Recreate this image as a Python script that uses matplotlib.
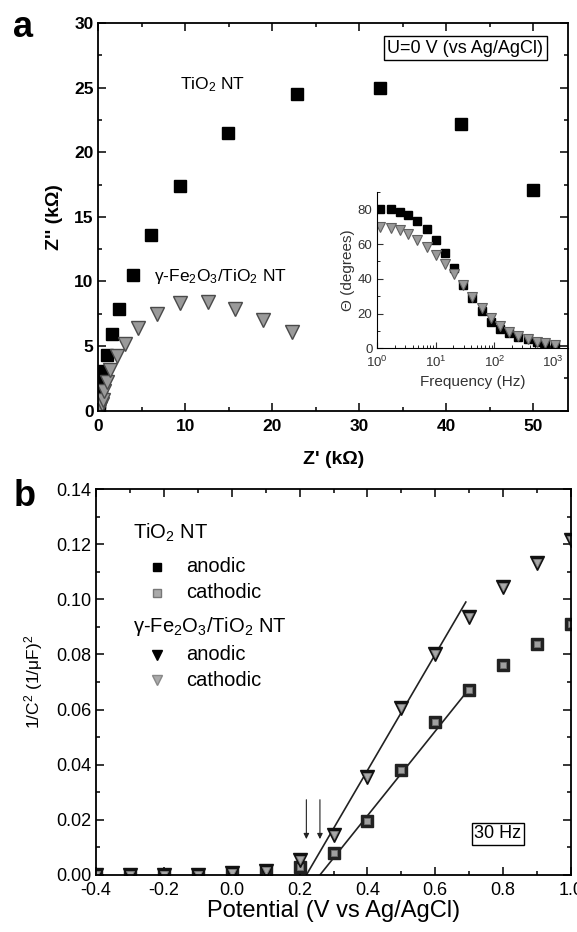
import matplotlib
matplotlib.use("Agg")
import matplotlib.pyplot as plt
from matplotlib.ticker import MultipleLocator, LogLocator, NullFormatter

plt.rcParams['font.family'] = ['Liberation Sans', 'DejaVu Sans']
plt.rcParams['axes.unicode_minus'] = False
plt.rcParams['mathtext.fontset'] = 'custom'
plt.rcParams['mathtext.rm'] = 'Liberation Sans'
plt.rcParams['mathtext.it'] = 'Liberation Sans:italic'
plt.rcParams['mathtext.bf'] = 'Liberation Sans:bold'
plt.rcParams['xtick.direction'] = 'in'
plt.rcParams['ytick.direction'] = 'in'

# panel a - Nyquist data (kOhm)
tio2_zre = [0.05, 0.1, 0.2, 0.3, 0.45, 0.6, 1.0, 1.6, 2.4, 4.0, 6.0, 9.4, 14.9, 22.8, 32.4, 41.7, 50.0]
tio2_zim = [0.3, 0.7, 1.2, 1.8, 2.4, 3.1, 4.3, 5.9, 7.9, 10.5, 13.6, 17.4, 21.5, 24.5, 25.0, 22.2, 17.1]
fe_zre = [0.1, 0.2, 0.35, 0.5, 0.65, 0.96, 1.34, 2.1, 3.1, 4.6, 6.7, 9.4, 12.6, 15.7, 18.9, 22.3]
fe_zim = [0.05, 0.2, 0.5, 0.85, 1.5, 2.25, 3.15, 4.2, 5.2, 6.4, 7.5, 8.3, 8.45, 7.9, 7.0, 6.1]

# inset - phase angle vs frequency
freq = [1.1, 1.7, 2.4, 3.4, 4.8, 7.0, 10.1, 14.4, 20.4, 29.5, 42, 61, 87, 126, 178, 257, 372, 527, 750, 1070]
theta_tio2 = [80, 80, 78.7, 76.7, 73.3, 68.5, 62.3, 55, 46, 36.4, 28.8, 21.5, 15.3, 11.1, 8.6, 6.7, 5.2, 3.8, 2.8, 2.0]
theta_fe = [70, 69.5, 68.1, 65.6, 62.3, 58.5, 53.7, 48.4, 42.6, 36.4, 29.7, 23.4, 17.6, 13, 9.6, 7.3, 5.4, 3.8, 2.8, 2.0]

# panel b - Mott-Schottky
potential = [-0.4, -0.3, -0.2, -0.1, 0.0, 0.1, 0.2, 0.3, 0.4, 0.5, 0.6, 0.7, 0.8, 0.9, 1.0]
tio2_anodic = [0, 0, 0, 0, 0.0005, 0.001, 0.003, 0.008, 0.0196, 0.0379, 0.0555, 0.0672, 0.0762, 0.0838, 0.0911]
tio2_cathodic = [0, 0, 0, 0, 0.0005, 0.001, 0.003, 0.008, 0.0196, 0.0379, 0.0555, 0.0672, 0.0762, 0.0838, 0.0911]
fe_anodic = [0, 0, 0, 0, 0.0007, 0.0015, 0.0054, 0.0145, 0.0357, 0.0606, 0.0802, 0.0937, 0.1043, 0.1133, 0.1216]
fe_cathodic = [0, 0, 0, 0, 0.0007, 0.0015, 0.0054, 0.0145, 0.0357, 0.0606, 0.0802, 0.0937, 0.1043, 0.1133, 0.1216]
fit_fe_x = [0.22, 0.69]
fit_fe_y = [0.0, 0.099]
fit_tio2_x = [0.26, 0.69]
fit_tio2_y = [0.0, 0.066]
flatband = [0.22, 0.26]

fig = plt.figure(figsize=(5.77, 9.32), dpi=100)

# ---------- panel a ----------
ax1 = fig.add_axes([0.1707, 0.5593, 0.8137, 0.416])
ax1.plot(tio2_zre, tio2_zim, 's', color='black', ms=8, mec='black')
ax1.plot(fe_zre, fe_zim, 'v', color='#9a9a9a', ms=10, mec='#4a4a4a', mew=1)
ax1.set_xlim(0, 54)
ax1.set_ylim(0, 30)
ax1.xaxis.set_major_locator(MultipleLocator(10))
ax1.xaxis.set_minor_locator(MultipleLocator(5))
ax1.yaxis.set_major_locator(MultipleLocator(5))
ax1.yaxis.set_minor_locator(MultipleLocator(2.5))
ax1.tick_params(which='both', top=True, right=True, width=1.1)
ax1.tick_params(which='major', length=6, labelsize=12.5)
ax1.tick_params(which='minor', length=3)
ax1.tick_params(axis='x', pad=6)
for lab in ax1.get_xticklabels() + ax1.get_yticklabels():
    lab.set_fontweight('bold')
for s in ax1.spines.values():
    s.set_linewidth(1.3)
ax1.set_xlabel("Z' (k\u03a9)", fontsize=14, fontweight='bold', labelpad=12)
ax1.set_ylabel("Z'' (k\u03a9)", fontsize=14, fontweight='bold', labelpad=8)
ax1.text(9.4, 25.2, "TiO$_2$ NT", fontsize=12.5, va='center', ha='left')
ax1.text(6.4, 10.4, "\u03b3-Fe$_2$O$_3$/TiO$_2$ NT", fontsize=12.5, va='center', ha='left')
ax1.text(42.2, 28.06, "U=0 V (vs Ag/AgCl)", fontsize=13, va='center', ha='center',
         bbox=dict(boxstyle='square,pad=0.2', fc='white', ec='black', lw=1))

# inset
axi = fig.add_axes([0.654, 0.6263, 0.3304, 0.1677])
axi.set_facecolor('none')
axi.semilogx(freq, theta_tio2, 's', color='black', ms=5.5, mec='black')
axi.semilogx(freq, theta_fe, 'v', color='#9a9a9a', ms=6.5, mec='#606060', mew=0.8)
axi.set_xlim(1, 1820)
axi.set_ylim(0, 90)
axi.spines['top'].set_visible(False)
axi.spines['right'].set_visible(False)
axi.yaxis.set_major_locator(MultipleLocator(20))
axi.yaxis.set_minor_locator(MultipleLocator(10))
axi.xaxis.set_major_locator(LogLocator(base=10, numticks=10))
axi.xaxis.set_minor_locator(LogLocator(base=10, subs=range(2, 10), numticks=10))
axi.xaxis.set_minor_formatter(NullFormatter())
axi.tick_params(which='major', length=4, labelsize=9.5, colors='#333333')
axi.tick_params(which='minor', length=2)
axi.tick_params(axis='x', pad=5)
axi.set_xlabel("Frequency (Hz)", fontsize=11, color='#333333', labelpad=3)
axi.set_ylabel("\u0398 (degrees)", fontsize=11, color='#333333', labelpad=2)

# ---------- panel b ----------
ax2 = fig.add_axes([0.1664, 0.0612, 0.8232, 0.4141])
ax2.plot(fit_fe_x, fit_fe_y, color='#222222', lw=1.2)
ax2.plot(fit_tio2_x, fit_tio2_y, color='#222222', lw=1.2)
ax2.plot(potential, tio2_anodic, 's', color='#222222', ms=8.5, mec='#222222')
ax2.plot(potential, tio2_cathodic, 's', color='#a0a0a0', ms=5, mec='#707070', mew=0.6)
ax2.plot(potential, fe_anodic, 'v', color='#111111', ms=10, mec='#111111')
ax2.plot(potential, fe_cathodic, 'v', color='#a8a8a8', ms=6, mec='#808080', mew=0.6)
for xv in flatband:
    ax2.annotate('', xy=(xv, 0.012), xytext=(xv, 0.0283),
                 arrowprops=dict(arrowstyle='-|>', lw=0.8, color='#222222', mutation_scale=8))
ax2.set_xlim(-0.4, 1.0)
ax2.set_ylim(0, 0.14)
ax2.xaxis.set_major_locator(MultipleLocator(0.2))
ax2.xaxis.set_minor_locator(MultipleLocator(0.1))
ax2.yaxis.set_major_locator(MultipleLocator(0.02))
ax2.yaxis.set_minor_locator(MultipleLocator(0.01))
ax2.xaxis.set_major_formatter(plt.FuncFormatter(lambda v, p: f"{v:.1f}"))
ax2.yaxis.set_major_formatter(plt.FuncFormatter(lambda v, p: f"{v:.2f}"))
ax2.tick_params(which='both', top=True, right=True, width=1.1)
ax2.tick_params(which='major', length=6, labelsize=13)
ax2.tick_params(which='minor', length=3)
ax2.tick_params(axis='x', pad=5)
for s in ax2.spines.values():
    s.set_linewidth(1.3)
ax2.set_xlabel("Potential (V vs Ag/AgCl)", fontsize=17, labelpad=1)
ax2.set_ylabel("1/C$^2$ (1/\u03bcF)$^2$", fontsize=12.5, labelpad=8)
ax2.text(0.785, 0.0149, "30 Hz", fontsize=13, va='center', ha='center',
         bbox=dict(boxstyle='square,pad=0.15', fc='white', ec='black', lw=1))

# legend built by hand
tr = ax2.transAxes
ax2.text(0.078, 0.886, "TiO$_2$ NT", transform=tr, fontsize=14.5, va='center')
ax2.plot([0.128], [0.799], 's', transform=tr, color='black', ms=5.5, clip_on=False)
ax2.text(0.189, 0.799, "anodic", transform=tr, fontsize=14.5, va='center')
ax2.plot([0.128], [0.731], 's', transform=tr, color='#aaaaaa', ms=5.5, mec='#777777', clip_on=False)
ax2.text(0.189, 0.731, "cathodic", transform=tr, fontsize=14.5, va='center')
ax2.text(0.078, 0.643, "\u03b3-Fe$_2$O$_3$/TiO$_2$ NT", transform=tr, fontsize=14.5, va='center')
ax2.plot([0.128], [0.570], 'v', transform=tr, color='black', ms=7, clip_on=False)
ax2.text(0.189, 0.570, "anodic", transform=tr, fontsize=14.5, va='center')
ax2.plot([0.128], [0.505], 'v', transform=tr, color='#aaaaaa', ms=7, mec='#888888', clip_on=False)
ax2.text(0.189, 0.505, "cathodic", transform=tr, fontsize=14.5, va='center')

fig.text(0.022, 0.970, "a", fontsize=26, fontweight='bold', va='center', ha='left')
fig.text(0.024, 0.467, "b", fontsize=26, fontweight='bold', va='center', ha='left')

fig.savefig("out.png", dpi=100)
